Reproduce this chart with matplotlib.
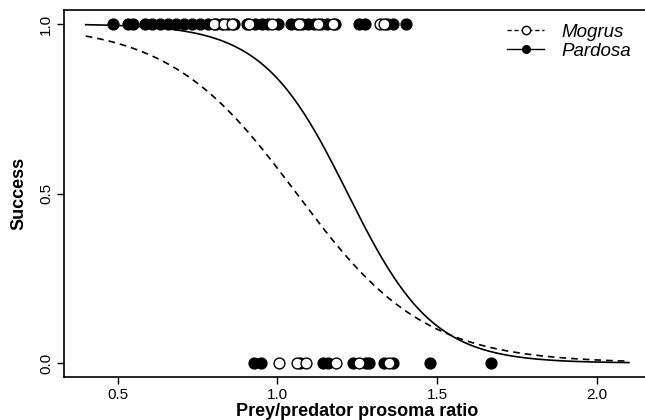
import numpy as np
import matplotlib.pyplot as plt

plt.rcParams['font.family'] = ['Liberation Sans', 'DejaVu Sans']

# observed outcomes (1 = success, 0 = failure) by prey/predator ratio
pardosa_success = [0.485, 0.532, 0.548, 0.585, 0.607, 0.632, 0.657, 0.682, 0.707, 0.732,
                   0.757, 0.782, 0.807, 0.826, 0.845, 0.864, 0.905, 0.93, 0.952, 0.971,
                   1.003, 1.041, 1.06, 1.078, 1.097, 1.116, 1.135, 1.154, 1.179, 1.254,
                   1.273, 1.342, 1.361, 1.402]
mogrus_success = [0.803, 0.834, 0.857, 0.912, 0.984, 1.069, 1.126, 1.173, 1.32, 1.333]
pardosa_fail = [0.928, 0.949, 1.071, 1.142, 1.157, 1.236, 1.278, 1.288, 1.335, 1.361,
                1.479, 1.670]
mogrus_fail = [1.006, 1.062, 1.088, 1.182, 1.255, 1.349]

# fitted logistic curves: intercept, slope
pardosa_coef = (9.15, -7.5)
mogrus_coef = (5.3, -5.0)
x_fit = np.linspace(0.4, 2.1, 300)


def logistic(x, coef):
    return 1.0 / (1.0 + np.exp(-(coef[0] + coef[1] * x)))


fig = plt.figure(figsize=(6.45, 4.2), dpi=100)
ax = fig.add_axes([64 / 645, (420 - 376.6) / 420, (650.6 - 64) / 645, (376.6 - 10.4) / 420])

ax.plot(x_fit, logistic(x_fit, mogrus_coef), color='black', lw=1.2, ls=(0, (4, 3)))
ax.plot(x_fit, logistic(x_fit, pardosa_coef), color='black', lw=1.2)

ax.plot(pardosa_success, np.ones(len(pardosa_success)), 'o', ms=7.8, color='black')
ax.plot(pardosa_fail, np.zeros(len(pardosa_fail)), 'o', ms=7.8, color='black')
ax.plot(mogrus_success, np.ones(len(mogrus_success)), 'o', ms=7.8, mfc='white', mec='black', mew=1)
ax.plot(mogrus_fail, np.zeros(len(mogrus_fail)), 'o', ms=7.8, mfc='white', mec='black', mew=1)

ax.set_xlim(0.332, 2.168)
ax.set_ylim(-0.04, 1.04)
ax.set_xticks([0.5, 1.0, 1.5, 2.0])
ax.set_xticklabels(['0.5', '1.0', '1.5', '2.0'])
ax.set_yticks([0.0, 0.5, 1.0])
ax.set_yticklabels(['0.0', '0.5', '1.0'], rotation=90, va='center')
ax.tick_params(labelsize=11, length=5, width=1, direction='out', pad=3)
for s in ax.spines.values():
    s.set_linewidth(1.2)

ax.set_xlabel('Prey/predator prosoma ratio', fontsize=13, fontweight='bold', labelpad=1)
ax.set_ylabel('Success', fontsize=13, fontweight='bold', labelpad=8)

ax.plot([], [], ls=(0, (3, 2)), color='black', lw=1, marker='o', ms=6, mfc='white', mec='black',
        label='Mogrus')
ax.plot([], [], ls='-', color='black', lw=1, marker='o', ms=5.5, label='Pardosa')
h, l = ax.get_legend_handles_labels()
leg = ax.legend(h, l, loc='upper right', bbox_to_anchor=((644 - 64) / 586.6, 1.0), frameon=False,
                fontsize=13.5, handlelength=2.0, handletextpad=0.9, labelspacing=0.1,
                borderaxespad=0.3)
for t in leg.get_texts():
    t.set_fontstyle('italic')

fig.savefig('out.png', dpi=100)
